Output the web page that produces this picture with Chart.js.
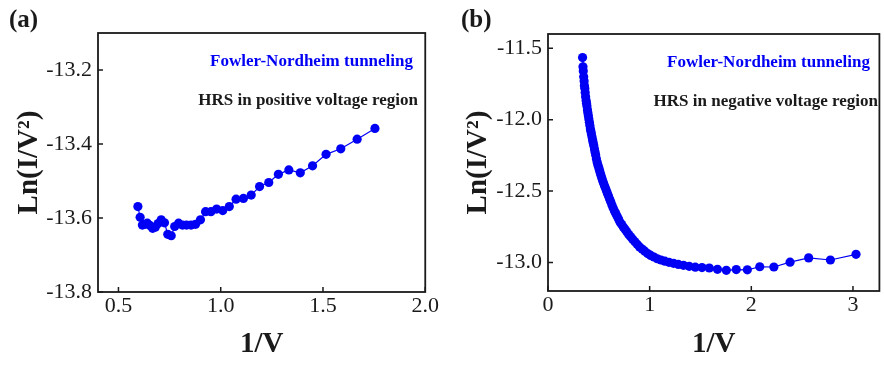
<!DOCTYPE html>
<html>
<head>
<meta charset="utf-8">
<script src="https://cdn.jsdelivr.net/npm/chart.js@4.4.1/dist/chart.umd.min.js"></script>
<style>
html,body{margin:0;padding:0;background:#fff;}
#wrap{position:relative;width:884px;height:365px;overflow:hidden;}
#wrap canvas{position:absolute;top:0;}
</style>
</head>
<body>
<div id="wrap">
  <canvas id="fnPos" width="440" height="365" style="left:0"></canvas>
  <canvas id="fnNeg" width="444" height="365" style="left:440px"></canvas>
</div>
<script>
// (a) HRS, positive voltage: 1/V vs Ln(I/V^2)
const posInvV=[0.595,0.606,0.617,0.629,0.641,0.654,0.667,0.680,0.694,0.709,
  0.725,0.741,0.758,0.775,0.794,0.813,0.833,0.855,0.877,0.901,
  0.926,0.952,0.980,1.010,1.042,1.075,1.111,1.149,1.190,1.235,
  1.282,1.333,1.389,1.449,1.515,1.587,1.667,1.754];
const posLn=[-13.569,-13.598,-13.619,-13.617,-13.614,-13.620,-13.628,-13.625,-13.615,-13.605,
  -13.613,-13.644,-13.648,-13.623,-13.614,-13.619,-13.619,-13.619,-13.617,-13.605,
  -13.583,-13.583,-13.576,-13.580,-13.569,-13.549,-13.547,-13.538,-13.515,-13.504,
  -13.482,-13.470,-13.478,-13.459,-13.428,-13.413,-13.387,-13.358];

// (b) HRS, negative voltage
const negInvV=[0.340,0.344,0.347,0.351,0.355,0.358,0.362,0.366,0.370,0.375,
  0.379,0.383,0.388,0.392,0.397,0.402,0.407,0.412,0.417,0.422,
  0.427,0.433,0.439,0.444,0.450,0.457,0.463,0.469,0.476,0.483,
  0.490,0.498,0.505,0.513,0.521,0.529,0.538,0.546,0.556,0.565,
  0.575,0.585,0.595,0.606,0.617,0.629,0.641,0.654,0.667,0.680,
  0.694,0.709,0.725,0.741,0.758,0.775,0.794,0.813,0.833,0.855,
  0.877,0.901,0.926,0.952,0.980,1.010,1.042,1.075,1.111,1.149,
  1.190,1.235,1.282,1.333,1.389,1.449,1.515,1.587,1.667,1.754,
  1.852,1.961,2.083,2.222,2.381,2.564,2.778,3.030];
const negLn=[-11.565,-11.630,-11.660,-11.700,-11.730,-11.760,-11.780,-11.810,-11.840,-11.865,
  -11.885,-11.905,-11.930,-11.951,-11.973,-11.996,-12.018,-12.041,-12.064,-12.082,
  -12.100,-12.121,-12.142,-12.160,-12.181,-12.206,-12.227,-12.248,-12.273,-12.297,
  -12.315,-12.334,-12.351,-12.370,-12.389,-12.408,-12.428,-12.443,-12.462,-12.479,
  -12.498,-12.517,-12.535,-12.555,-12.575,-12.597,-12.618,-12.639,-12.658,-12.677,
  -12.696,-12.718,-12.735,-12.752,-12.768,-12.785,-12.804,-12.820,-12.837,-12.855,
  -12.873,-12.891,-12.906,-12.921,-12.938,-12.951,-12.962,-12.974,-12.983,-12.991,
  -12.999,-13.006,-13.014,-13.020,-13.027,-13.033,-13.036,-13.039,-13.048,-13.055,
  -13.050,-13.052,-13.030,-13.032,-12.998,-12.968,-12.983,-12.943];

const serif='"Liberation Serif","Times New Roman",serif';
const BLUE='#0000f5';
Chart.defaults.font.family=serif;
Chart.defaults.color='#1a1a1a';

// frame box + inward tick marks + free text
const frame={
  id:'frame',
  afterDraw(chart,args,opts){
    const {ctx,chartArea:a,scales:{x,y}}=chart;
    ctx.save();
    ctx.strokeStyle='#1a1a1a'; ctx.lineWidth=1.8;
    ctx.strokeRect(a.left,a.top,a.right-a.left,a.bottom-a.top);
    ctx.lineWidth=1.5; ctx.beginPath();
    x.ticks.forEach(t=>{const p=x.getPixelForValue(t.value); ctx.moveTo(p,a.bottom); ctx.lineTo(p,a.bottom-5);});
    y.ticks.forEach(t=>{const p=y.getPixelForValue(t.value); ctx.moveTo(a.left,p); ctx.lineTo(a.left+5,p);});
    ctx.stroke();
    (opts.notes||[]).forEach(n=>{
      ctx.font=n.font; ctx.fillStyle=n.color; ctx.textAlign=n.align; ctx.textBaseline='middle';
      ctx.fillText(n.text,n.x,n.y);
    });
    ctx.restore();
  }
};

function mkFN(id,xs,ys,ax,pad,yTitlePad,notes){
  const pts=xs.map((v,i)=>({x:v,y:ys[i]}));
  return new Chart(document.getElementById(id),{
    type:'scatter',
    data:{datasets:[{data:pts,showLine:true,borderColor:BLUE,borderWidth:1.2,
      pointBackgroundColor:BLUE,pointBorderWidth:0,pointRadius:4.6}]},
    options:{responsive:false,animation:false,
      layout:{padding:{top:pad.top,right:pad.right,left:0,bottom:0}},
      plugins:{legend:{display:false},tooltip:{enabled:false},frame:{notes}},
      scales:{
        x:{type:'linear',min:ax.xMin,max:ax.xMax,
          grid:{display:false,drawTicks:false},border:{display:false},
          ticks:{stepSize:ax.xStep,includeBounds:false,padding:1,font:{size:22},color:'#1a1a1a',
            callback:v=>v.toFixed(ax.xDec)},
          title:{display:true,text:'1/V',font:{size:29,weight:'bold'},color:'#1a1a1a',padding:{top:0,bottom:3}},
          afterFit:s=>{s.height=pad.xH;}},
        y:{type:'linear',min:ax.yMin,max:ax.yMax,
          grid:{display:false,drawTicks:false},border:{display:false},
          ticks:{stepSize:ax.yStep,includeBounds:false,padding:6,font:{size:22},color:'#1a1a1a',
            callback:v=>v.toFixed(1)},
          title:{display:true,text:'Ln(I/V\u00B2)',font:{size:29,weight:'bold'},color:'#1a1a1a',padding:{top:yTitlePad,bottom:0}},
          afterFit:s=>{s.width=pad.yW;}}
      }},
    plugins:[frame]
  });
}

const noteFont='bold 17px '+serif;
const labFont='bold 25px '+serif;

mkFN('fnPos',posInvV,posLn,
  {xMin:0.4,xMax:2.0,xStep:0.5,xDec:1,yMin:-13.8,yMax:-13.1,yStep:0.2},
  {top:33,right:13,xH:73,yW:98},12,
  [{text:'(a)',x:9,y:21,font:labFont,color:'#1a1a1a',align:'left'},
   {text:'Fowler-Nordheim tunneling',x:413,y:62,font:noteFont,color:BLUE,align:'right'},
   {text:'HRS in positive voltage region',x:418,y:101,font:noteFont,color:'#1a1a1a',align:'right'}]);

mkFN('fnNeg',negInvV,negLn,
  {xMin:0,xMax:3.26,xStep:1,xDec:0,yMin:-13.2,yMax:-11.4,yStep:0.5},
  {top:34,right:2,xH:74,yW:108},21,
  [{text:'(b)',x:21,y:21,font:labFont,color:'#1a1a1a',align:'left'},
   {text:'Fowler-Nordheim tunneling',x:430,y:63,font:noteFont,color:BLUE,align:'right'},
   {text:'HRS in negative voltage region',x:438,y:102,font:noteFont,color:'#1a1a1a',align:'right'}]);
</script>
</body>
</html>
